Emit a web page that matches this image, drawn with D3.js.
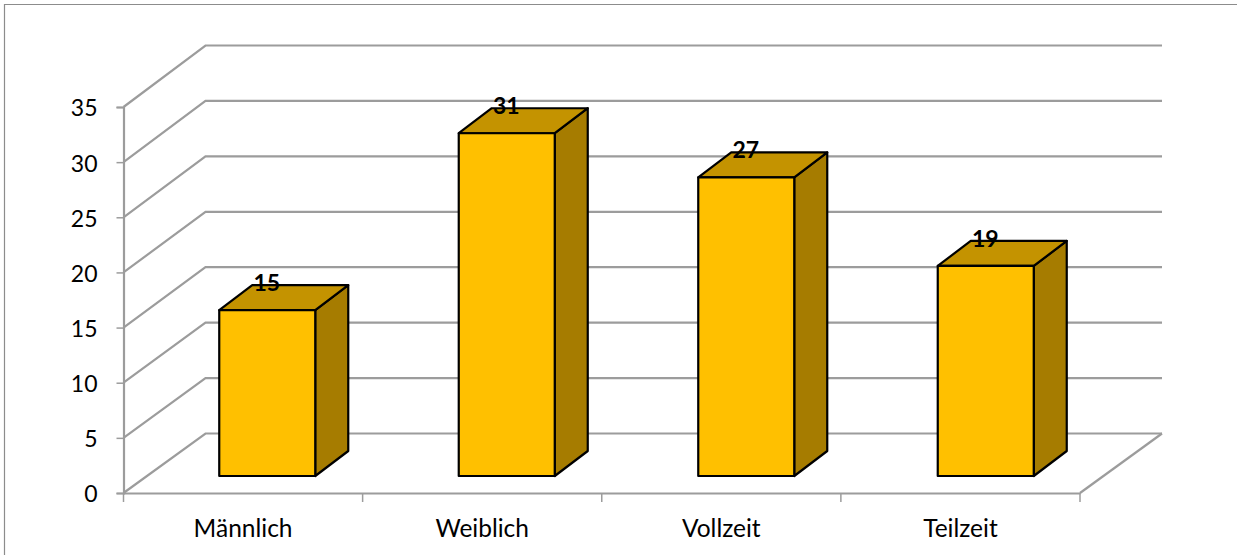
<!DOCTYPE html>
<html><head><meta charset="utf-8">
<script src="https://cdn.jsdelivr.net/npm/d3@7"></script>
<style>
html,body{margin:0;padding:0;background:#fff;overflow:hidden}
text{font-family:Lato,"Open Sans",sans-serif;fill:#000}
</style></head><body>
<svg id="c" width="1237" height="555"></svg>
<script>
const categories = ["Männlich","Weiblich","Vollzeit","Teilzeit"];
const values = [15,31,27,19];
const yTicks = [0,5,10,15,20,25,30,35];

const svg = d3.select("#c");
const plotLeft=123.5,plotRight=1080,plotBottom=493,plotTop=107;
const depthX=82;
const x=d3.scaleBand().domain(categories).range([plotLeft,plotRight]);
const xBar=d3.scaleBand().domain(categories).range([123,1081]);
const y=d3.scaleLinear().domain([0,35]).range([plotBottom,plotTop]);
const yBack=d3.scaleLinear().domain([0,35]).range([433.5,45.5]);
const yBar=d3.scaleLinear().domain([0,35]).range([476,89]);
const barW=96, shiftX=24.5, barDX=33, barDY=-25;
const grid="#9c9c9c";

svg.append("path").attr("d","M4.5,555V4.5H1237").attr("fill","none").attr("stroke","#8c8c8c").attr("stroke-width",1.2);

// walls
const g=svg.append("g").attr("fill","none").attr("stroke",grid).attr("stroke-width",2.2);
g.selectAll("path.grid").data(yTicks).join("path").attr("class","grid")
 .attr("d",d=>`M${plotLeft},${y(d)}L${plotLeft+depthX},${yBack(d)}H${plotRight+depthX}`);
g.append("path").attr("d",`M${plotRight},${y(0)}L${plotRight+depthX},${yBack(0)}`);

// axes
const ay=svg.append("g").attr("transform",`translate(${plotLeft},0)`)
 .call(d3.axisLeft(y).tickValues(yTicks).tickSize(7).tickPadding(19));
const ax=svg.append("g").attr("transform",`translate(0,${plotBottom})`)
 .call(d3.axisBottom(x).tickValues([]).tickSizeOuter(0));
const edges=categories.map(c=>x(c)).concat([plotRight]);
ax.selectAll("line.e").data(edges).join("line").attr("class","e")
 .attr("x1",d=>d).attr("x2",d=>d).attr("y1",0).attr("y2",9).attr("stroke",grid).attr("stroke-width",1.5);
ax.selectAll("text.c").data(categories).join("text").attr("class","c")
 .attr("x",d=>x(d)+x.bandwidth()/2).attr("y",44).attr("text-anchor","middle").attr("font-size",24.5).text(d=>d);
[ay,ax].forEach(a=>{a.selectAll(".domain").attr("stroke",grid).attr("stroke-width",2.2);});
ay.selectAll(".tick line").attr("stroke",grid).attr("stroke-width",1.5);
ay.selectAll(".tick text").attr("font-size",23).attr("font-family","Lato").attr("fill","#000").attr("y",1.5);

// bars
const bars=svg.append("g").attr("stroke","#000").attr("stroke-width",2.2).attr("stroke-linejoin","round")
 .selectAll("g").data(categories.map((c,i)=>({c,v:values[i]}))).join("g");
const fx=d=>xBar(d.c)+shiftX+(xBar.bandwidth()-barW)/2;
const ty=d=>yBar(d.v);
const by=yBar(0);
bars.append("path").attr("fill","#a67c00")
 .attr("d",d=>`M${fx(d)+barW},${ty(d)}l${barDX},${barDY}V${by+barDY}l${-barDX},${-barDY}Z`);
bars.append("path").attr("fill","#c49300")
 .attr("d",d=>`M${fx(d)},${ty(d)}l${barDX},${barDY}h${barW}l${-barDX},${-barDY}Z`);
bars.append("rect").attr("fill","#ffc000")
 .attr("x",fx).attr("y",ty).attr("width",barW).attr("height",d=>by-ty(d));
bars.append("text").attr("stroke","none").attr("font-size",23).attr("font-weight",700).attr("text-anchor","middle")
 .attr("x",d=>fx(d)+barW/2-0.5).attr("y",d=>ty(d)-19).text(d=>d.v);
</script></body></html>
